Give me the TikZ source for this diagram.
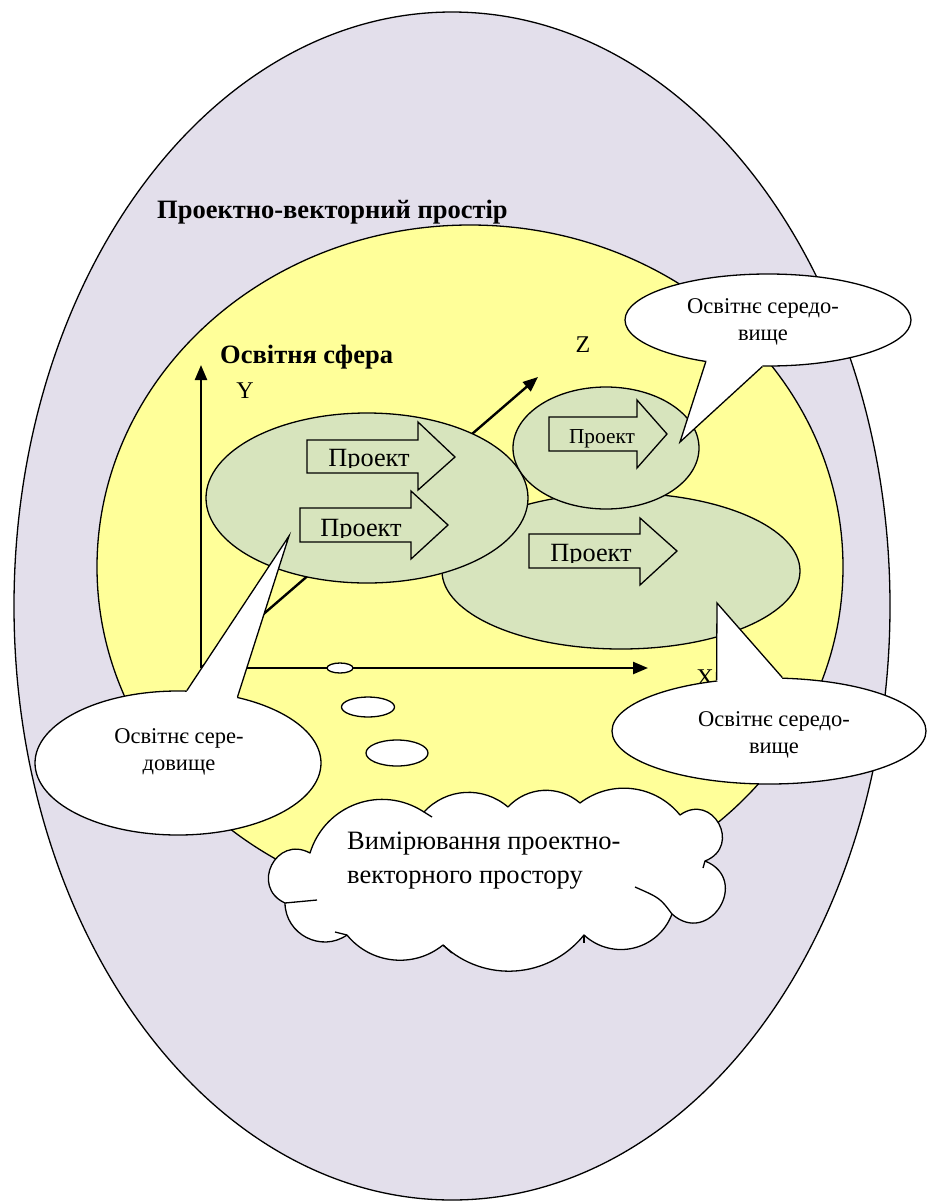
\documentclass[tikz,border=0pt]{standalone}
\usepackage{fontspec}
\setmainfont{Liberation Serif}
\usetikzlibrary{shapes.geometric,arrows.meta,calc}
\definecolor{lav}{RGB}{227,223,235}
\definecolor{yel}{RGB}{255,255,153}
\definecolor{grn}{RGB}{215,228,189}
\begin{document}
\begin{tikzpicture}[x=1pt,y=-1pt,
  outl/.style={draw=black,line width=1.3pt},
  axisline/.style={line width=2.4pt,-{Triangle[length=15pt,width=12pt]}},
  blob/.style={ellipse,outl,fill=grn,inner sep=0pt},
  hole/.style={ellipse,outl,fill=white,inner sep=0pt},
  bubble/.style={ellipse,outl,fill=white,inner sep=0pt},
  barrow/.style={outl,fill=grn,line join=miter},
  bigtxt/.style={inner sep=0pt,font=\fontsize{26.3}{30}\selectfont},
  smalltxt/.style={inner sep=0pt,font=\fontsize{21.3}{25}\selectfont},
  ctxt/.style={inner sep=0pt,align=center,font=\fontsize{22.5}{27}\selectfont},
  cltxt/.style={inner sep=0pt,align=left,font=\fontsize{26.5}{34}\selectfont},
  ttl/.style={inner sep=0pt,font=\fontsize{26.5}{30}\selectfont\bfseries},
  axlbl/.style={inner sep=0pt,font=\fontsize{24}{28}\selectfont}
]
\useasboundingbox (0,0) rectangle (928,1203);
% outer space
\node[ellipse,outl,fill=lav,minimum width=876pt,minimum height=1188pt,inner sep=0pt] (space) at (452,606) {};
\node[ttl,anchor=base west] (title) at (157,218) {Проектно-векторний простір};
% sphere
\node[ellipse,outl,fill=yel,minimum width=746pt,minimum height=684pt,inner sep=0pt] (sphere) at (470,567) {};
\node[ttl,anchor=base west] (sph) at (220,363) {Освітня сфера};
% axes
\coordinate (O) at (201,668);
\coordinate (Yt) at (201,365);
\coordinate (Xt) at (648,668);
\coordinate (Zt) at (538,377);
\draw[axisline] (O) -- (Yt);
\draw[axisline] (O) -- (Xt);
\draw[axisline] (O) -- (Zt);
\node[axlbl] (ylab) at (245,391) {Y};
\node[axlbl] (zlab) at (583,345) {Z};
\node[axlbl] (xlab) at (705,678) {X};
% small holes
\node[hole,minimum width=26pt,minimum height=10pt] (h1) at (340,668) {};
\node[hole,minimum width=53pt,minimum height=20pt] (h2) at (368,707) {};
\node[hole,minimum width=62pt,minimum height=26pt] (h3) at (397,753) {};
% environments
\node[blob,minimum width=358pt,minimum height=156pt] (e3) at (621,571) {};
\node[blob,minimum width=322pt,minimum height=170pt] (e1) at (367,498) {};
\node[blob,minimum width=186pt,minimum height=122pt] (e2) at (606,448) {};
% project arrows
\draw[barrow] (307,440) -- (418,440) -- (418,422) -- (455,457) -- (418,490) -- (418,473) -- (307,473) -- cycle;
\begin{scope}
\clip (307,440) rectangle (418,467);
\node[bigtxt,anchor=base] (p1) at (369,466) {Проект};
\end{scope}
\draw[barrow] (300,508) -- (411,508) -- (411,491) -- (448,525) -- (411,559) -- (411,542) -- (300,542) -- cycle;
\begin{scope}
\clip (300,508) rectangle (411,537);
\node[bigtxt,anchor=base] (p2) at (361,536) {Проект};
\end{scope}
\draw[barrow] (529,534) -- (640,534) -- (640,518) -- (677,551) -- (640,585) -- (640,568) -- (529,568) -- cycle;
\begin{scope}
\clip (529,534) rectangle (640,562);
\node[bigtxt,anchor=base] (p3) at (591,561) {Проект};
\end{scope}
\draw[barrow] (549,417) -- (637,417) -- (637,400) -- (667,434) -- (637,468) -- (637,451) -- (549,451) -- cycle;
\node[smalltxt,anchor=base] (p4) at (602,443) {Проект};
% callout 1 (top right)
\node[bubble,minimum width=286pt,minimum height=92pt] (c1) at (768,320) {};
\coordinate (c1tip) at (680,442);
\fill[white] (c1.center) -- (c1.214) -- (c1tip) -- (c1.263) -- cycle;
\draw[outl] (c1.214) -- (c1tip) -- (c1.263);
\node[ctxt] (t1) at (763,322) {Освітнє середо-\\вище};
% callout 2 (left)
\node[bubble,minimum width=286pt,minimum height=144pt] (c2) at (178,763) {};
\coordinate (c2tip) at (289,536);
\fill[white] (c2.center) -- (c2.83) -- (c2tip) -- (c2.48) -- cycle;
\draw[outl] (c2.83) -- (c2tip) -- (c2.48);
\node[ctxt] (t2) at (179,752) {Освітнє сере-\\довище};
% callout 3 (right bottom)
\node[bubble,minimum width=314pt,minimum height=106pt] (c3) at (769,731) {};
\coordinate (c3tip) at (717,603);
\fill[white] (c3.center) -- (c3.136) -- (c3tip) -- (c3.76) -- cycle;
\draw[outl] (c3.136) -- (c3tip) -- (c3.76);
\node[ctxt] (t3) at (774,735) {Освітнє середо-\\вище};
% cloud
\coordinate (J1) at (310,853);
\coordinate (J2) at (424,812);
\coordinate (J3) at (508,807);
\coordinate (J4) at (580,803);
\coordinate (J5) at (680,815);
\coordinate (J6) at (705,861);
\coordinate (J7) at (672,914);
\coordinate (J8) at (584,935);
\coordinate (J9) at (443,945);
\coordinate (J10) at (347,935);
\coordinate (J11) at (285,903);
\filldraw[outl,fill=white,line join=round]
  (J11) .. controls ($(J11)!0.69!92:(J1)$) and ($(J1)!0.69!-92:(J11)$) .. (J1)
  .. controls ($(J1)!0.42!53:(J2)$) and ($(J2)!0.42!-53:(J1)$) .. (J2)
  .. controls ($(J2)!0.39!44:(J3)$) and ($(J3)!0.39!-44:(J2)$) .. (J3)
  .. controls ($(J3)!0.39!44:(J4)$) and ($(J4)!0.39!-44:(J3)$) .. (J4)
  .. controls ($(J4)!0.39!44:(J5)$) and ($(J5)!0.39!-44:(J4)$) .. (J5)
  .. controls ($(J5)!0.77!97:(J6)$) and ($(J6)!0.77!-97:(J5)$) .. (J6)
  .. controls ($(J6)!0.8!100:(J7)$) and ($(J7)!0.8!-100:(J6)$) .. (J7)
  .. controls ($(J7)!0.43!56:(J8)$) and ($(J8)!0.43!-56:(J7)$) .. (J8)
  .. controls ($(J8)!0.4!47:(J9)$) and ($(J9)!0.4!-47:(J8)$) .. (J9)
  .. controls ($(J9)!0.39!45:(J10)$) and ($(J10)!0.39!-45:(J9)$) .. (J10)
  .. controls ($(J10)!0.45!62:(J11)$) and ($(J11)!0.45!-62:(J10)$) .. (J11)
  -- cycle;
% inner puff hooks
\draw[outl] (J7) .. controls (660,898) .. (635,887);
\draw[outl] (J11) -- (317,900);
\draw[outl] (J2) -- (432,817);
\draw[outl] (J6) -- (703,868);
\draw[outl] (J10) -- (335,932);
\draw[outl] (J9) -- (452,953);
\draw[outl] (J8) -- (584,943);
\node[cltxt,anchor=base west] (ct) at (347,883) {Вимірювання проектно-\\векторного простору};
\end{tikzpicture}
\end{document}
